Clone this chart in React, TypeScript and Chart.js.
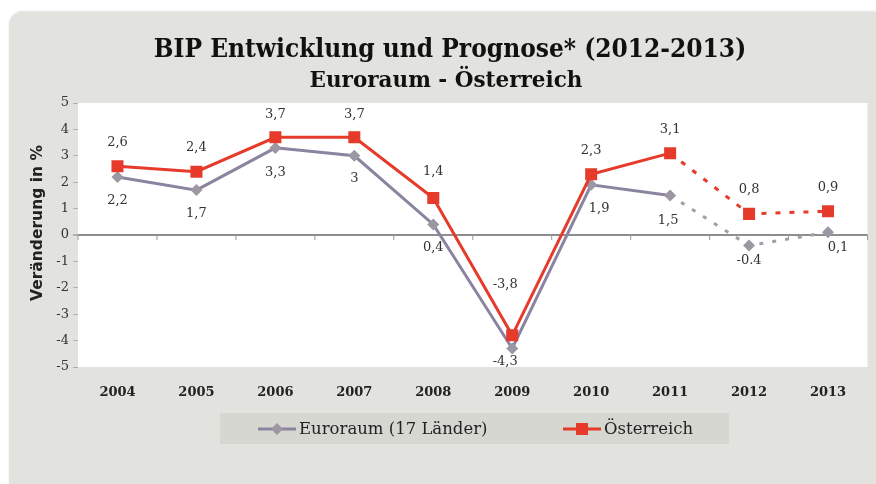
import React, { useEffect, useRef } from "react";
import { Chart, registerables } from "chart.js";

Chart.register(...registerables);

// ---------- data ----------
const years = ["2004", "2005", "2006", "2007", "2008", "2009", "2010", "2011", "2012", "2013"];
const euroValues = [2.2, 1.7, 3.3, 3.0, 0.4, -4.3, 1.9, 1.5, -0.4, 0.1];
const austriaValues = [2.6, 2.4, 3.7, 3.7, 1.4, -3.8, 2.3, 3.1, 0.8, 0.9];
const euroLabels = ["2,2", "1,7", "3,3", "3", "0,4", "-4,3", "1,9", "1,5", "-0.4", "0,1"];
const austriaLabels = ["2,6", "2,4", "3,7", "3,7", "1,4", "-3,8", "2,3", "3,1", "0,8", "0,9"];
const yTicks = [5, 4, 3, 2, 1, 0, -1, -2, -3, -4, -5];
const seriesNames = ["Euroraum (17 Länder)", "Österreich"];
const titleText = "BIP Entwicklung und Prognose* (2012-2013)";
const subtitleText = "Euroraum - Österreich";
const yAxisTitle = "Veränderung in %";
const forecastFrom = 7; // segments starting at this index are dashed (forecast)

// ---------- styles ----------
const SERIF = '"DejaVu Serif", "Liberation Serif", serif';
const SERIF_COND = '"DejaVu Serif Condensed", "DejaVu Serif", "Liberation Serif", serif';
const SANS = '"DejaVu Sans", "Liberation Sans", sans-serif';
const EURO_LINE = "#8b83a0";
const EURO_POINT = "#9b97a3";
const EURO_DASH = "#a29eaa";
const AT_RED = "#e63a2b";
const TEXT = "#222222";
// label offsets [dx, dy] relative to point
const euroLabelOffsets = [[0, 24], [0, 24], [0, 25], [0, 23], [0, 23], [-7, 13], [8, 24], [-2, 25], [0, 15], [10, 15]];
const austriaLabelOffsets = [[0, -24], [0, -24], [0, -23], [0, -23], [0, -26], [-7, -51], [0, -24], [0, -24], [0, -24], [0, -24]];

const backgroundPlugin = {
  id: "bgArea",
  beforeDraw(chart: any) {
    const { ctx, chartArea } = chart;
    ctx.save();
    ctx.fillStyle = "#ffffff";
    ctx.fillRect(chartArea.left, chartArea.top, chartArea.right - chartArea.left, chartArea.bottom - chartArea.top);
    ctx.restore();
  },
};

const titlePlugin = {
  id: "titles",
  afterDraw(chart: any) {
    const { ctx } = chart;
    ctx.save();
    ctx.fillStyle = "#111111";
    ctx.textAlign = "center";
    ctx.textBaseline = "alphabetic";
    ctx.font = "bold 26px " + SERIF_COND;
    ctx.fillText(titleText, 450, 57);
    ctx.font = "bold 21.5px " + SERIF;
    ctx.fillText(subtitleText, 446, 87);
    ctx.restore();
  },
};

const yTitlePlugin = {
  id: "yTitle",
  afterDraw(chart: any) {
    const { ctx } = chart;
    ctx.save();
    ctx.translate(38, 223);
    ctx.rotate(-Math.PI / 2);
    ctx.fillStyle = TEXT;
    ctx.font = "bold 15.5px " + SANS;
    ctx.textAlign = "center";
    ctx.textBaseline = "middle";
    ctx.fillText(yAxisTitle, 0, 0);
    ctx.restore();
  },
};

const zeroTicksPlugin = {
  id: "zeroTicks",
  afterDatasetsDraw(chart: any) {
    const { ctx } = chart;
    const x = chart.scales.x;
    const y = chart.scales.y;
    const y0 = y.getPixelForValue(0);
    const half = (x.getPixelForValue(1) - x.getPixelForValue(0)) / 2;
    ctx.save();
    ctx.strokeStyle = "#9a9a9a";
    ctx.lineWidth = 1;
    for (let i = 0; i <= years.length; i++) {
      const px = x.getPixelForValue(0) - half + i * half * 2;
      ctx.beginPath();
      ctx.moveTo(px, y0);
      ctx.lineTo(px, y0 + 5);
      ctx.stroke();
    }
    ctx.restore();
  },
};

const labelsPlugin = {
  id: "pointLabels",
  afterDatasetsDraw(chart: any) {
    const { ctx } = chart;
    ctx.save();
    ctx.font = "13px " + SERIF;
    ctx.fillStyle = "#333333";
    ctx.textAlign = "center";
    ctx.textBaseline = "middle";
    const sets = [
      { idx: 0, labels: euroLabels, offs: euroLabelOffsets },
      { idx: 1, labels: austriaLabels, offs: austriaLabelOffsets },
    ];
    sets.forEach((s) => {
      const meta = chart.getDatasetMeta(s.idx);
      meta.data.forEach((pt: any, i: number) => {
        const [dx, dy] = s.offs[i];
        ctx.fillText(s.labels[i], pt.x + dx, pt.y + dy);
      });
    });
    ctx.restore();
  },
};

const legendPlugin = {
  id: "customLegend",
  afterDraw(chart: any) {
    const { ctx } = chart;
    ctx.save();
    ctx.fillStyle = "#d6d7d1";
    ctx.fillRect(220, 413, 509, 31);
    const cy = 429;
    // Euro item
    ctx.strokeStyle = EURO_LINE;
    ctx.lineWidth = 3;
    ctx.beginPath();
    ctx.moveTo(258, cy);
    ctx.lineTo(296, cy);
    ctx.stroke();
    ctx.fillStyle = EURO_POINT;
    ctx.beginPath();
    ctx.moveTo(277, cy - 6);
    ctx.lineTo(283, cy);
    ctx.lineTo(277, cy + 6);
    ctx.lineTo(271, cy);
    ctx.closePath();
    ctx.fill();
    // Austria item
    ctx.strokeStyle = AT_RED;
    ctx.beginPath();
    ctx.moveTo(563, cy);
    ctx.lineTo(601, cy);
    ctx.stroke();
    ctx.fillStyle = AT_RED;
    ctx.fillRect(576, cy - 6, 12, 12);
    ctx.fillStyle = TEXT;
    ctx.font = "16.5px " + SERIF;
    ctx.textAlign = "left";
    ctx.textBaseline = "middle";
    ctx.fillText(chart.data.datasets[0].label, 299, cy + 1);
    ctx.fillText(chart.data.datasets[1].label, 604, cy + 1);
    ctx.restore();
  },
};

export default function App() {
  const canvasRef = useRef<HTMLCanvasElement | null>(null);

  useEffect(() => {
    if (!canvasRef.current) return;
    const chart = new Chart(canvasRef.current, {
      type: "line",
      data: {
        labels: years,
        datasets: [
          {
            label: seriesNames[0],
            data: euroValues,
            order: 1,
            borderColor: EURO_LINE,
            borderWidth: 3,
            pointStyle: "rectRot",
            pointRadius: 6,
            pointBackgroundColor: EURO_POINT,
            pointBorderColor: EURO_POINT,
            pointBorderWidth: 0,
            tension: 0,
            segment: {
              borderDash: (c: any) => (c.p0DataIndex >= forecastFrom ? [4, 9] : undefined),
              borderColor: (c: any) => (c.p0DataIndex >= forecastFrom ? EURO_DASH : undefined),
            },
          },
          {
            label: seriesNames[1],
            data: austriaValues,
            order: 0,
            borderColor: AT_RED,
            borderWidth: 3,
            pointStyle: "rect",
            pointRadius: 8.5,
            pointBackgroundColor: AT_RED,
            pointBorderColor: AT_RED,
            pointBorderWidth: 0,
            tension: 0,
            segment: {
              borderDash: (c: any) => (c.p0DataIndex >= forecastFrom ? [5, 9] : undefined),
            },
          },
        ],
      },
      options: {
        animation: false,
        responsive: false,
        maintainAspectRatio: false,
        layout: { padding: { top: 103, right: 8, left: 0, bottom: 0 } },
        plugins: {
          legend: { display: false },
          title: { display: false },
          tooltip: { enabled: false },
        },
        scales: {
          x: {
            offset: true,
            grid: { display: false },
            border: { display: false },
            ticks: {
              font: { family: SERIF, size: 13, weight: "bold" },
              color: TEXT,
              padding: 10,
            },
            afterFit: (s: any) => {
              s.height = 117;
            },
          },
          y: {
            min: -5,
            max: 5,
            afterBuildTicks: (s: any) => {
              s.ticks = yTicks.map((v) => ({ value: v }));
            },
            ticks: {
              font: { family: SERIF, size: 13 },
              color: "#333333",
              padding: 4,
              callback: (v: any) => String(v),
            },
            border: { display: false },
            grid: {
              drawTicks: true,
              tickLength: 5,
              tickColor: "#b0b0b0",
              color: (c: any) => (c.tick && c.tick.value === 0 ? "#8e8e8e" : "rgba(0,0,0,0)"),
              lineWidth: (c: any) => (c.tick && c.tick.value === 0 ? 2 : 1),
            },
            title: { display: false, text: yAxisTitle },
            afterFit: (s: any) => {
              s.width = 78;
            },
          },
        },
      },
      plugins: [backgroundPlugin, zeroTicksPlugin, labelsPlugin, legendPlugin, titlePlugin, yTitlePlugin],
    } as any);
    return () => chart.destroy();
  }, []);

  return (
    <div style={{ position: "absolute", left: 0, top: 0, width: 876, height: 484, background: "#ffffff", overflow: "hidden" }}>
      <div
        style={{
          position: "absolute",
          left: 9,
          top: 12,
          right: 0,
          bottom: 0,
          background: "#e2e3de",
          borderTopLeftRadius: 14,
          boxShadow: "0 -1px 2px rgba(0,0,0,0.12)",
        }}
      />
      <canvas ref={canvasRef} width={876} height={484} style={{ position: "absolute", left: 0, top: 0, width: 876, height: 484 }} />
    </div>
  );
}
